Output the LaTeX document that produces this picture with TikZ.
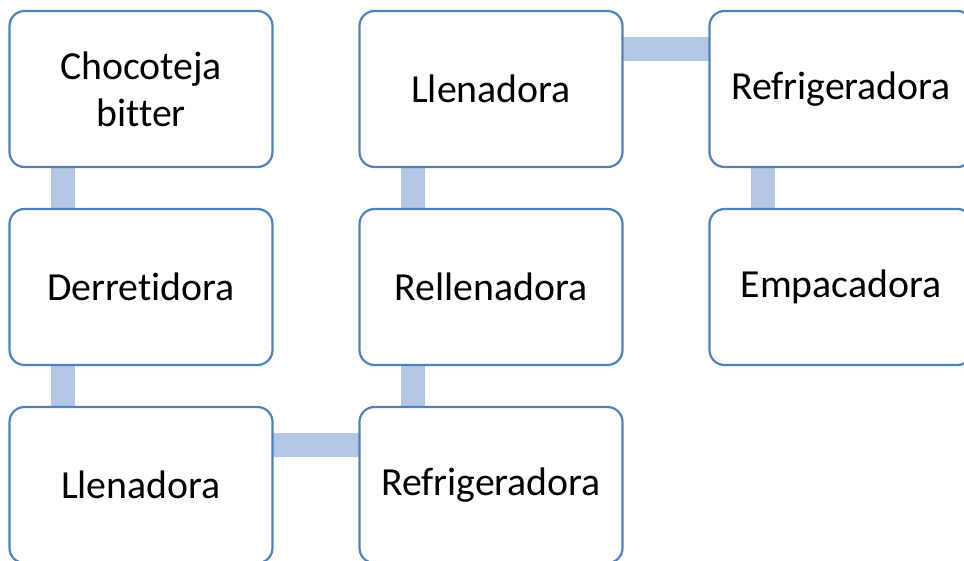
\documentclass[tikz,border=0pt]{standalone}
\usepackage{fontspec}
\setmainfont{Carlito}[Ligatures=NoCommon]
\usepackage{tikz}
\usetikzlibrary{positioning, backgrounds}
\definecolor{boxblue}{HTML}{4F81BD}
\definecolor{barblue}{HTML}{B4C7E7}
\tikzset{
    stage/.style={rectangle, draw=boxblue, line width=2.2pt, fill=white, rounded corners=15pt, minimum width=263pt, minimum height=156pt, text width=236pt, align=center, outer sep=0pt, font=\fontsize{39.8}{47}\selectfont},
    link/.style={draw=barblue, line width=24pt},
}

\begin{document}
\begin{tikzpicture}[x=1pt, y=1pt, node distance=42pt and 87pt]
    \useasboundingbox (0,0) rectangle (964,560);

    % First column, top to bottom
    \node[stage] (choc) at (141,471) {Chocoteja\\bitter};
    \node[stage, below=of choc] (derr) {Derretidora};
    \node[stage, below=of derr] (llen1) {Llenadora};

    % Second column, bottom to top
    \node[stage, right=of llen1] (refr1) {Refrigeradora};
    \node[stage, above=of refr1] (rell) {Rellenadora};
    \node[stage, above=of rell] (llen2) {Llenadora};

    % Third column
    \node[stage, right=of llen2] (refr2) {Refrigeradora};
    \node[stage, below=of refr2] (emp) {Empacadora};

    % Bars between the stages
    \begin{scope}[on background layer]
        \draw[link] ([xshift=-78pt]choc.south) -- ([xshift=-78pt]derr.north);
        \draw[link] ([xshift=-78pt]derr.south) -- ([xshift=-78pt]llen1.north);
        \draw[link] ([yshift=40pt]llen1.east) -- ([yshift=40pt]refr1.west);
        \draw[link] ([xshift=-78pt]refr1.north) -- ([xshift=-78pt]rell.south);
        \draw[link] ([xshift=-78pt]rell.north) -- ([xshift=-78pt]llen2.south);
        \draw[link] ([yshift=40pt]llen2.east) -- ([yshift=40pt]refr2.west);
        \draw[link] ([xshift=-78pt]refr2.south) -- ([xshift=-78pt]emp.north);
    \end{scope}
\end{tikzpicture}
\end{document}
